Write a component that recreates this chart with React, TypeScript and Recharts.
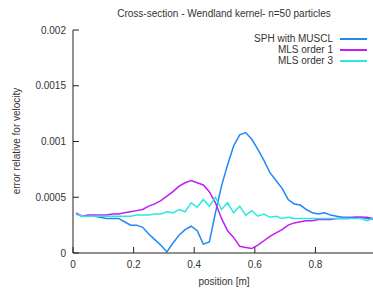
import React from 'react';
import { LineChart, Line, XAxis, YAxis, Legend } from 'recharts';

const positions = [
  0.01, 0.03, 0.05, 0.07, 0.09, 0.11, 0.13, 0.15, 0.17, 0.19,
  0.21, 0.23, 0.25, 0.27, 0.29, 0.31, 0.33, 0.35, 0.37, 0.39,
  0.41, 0.43, 0.45, 0.47, 0.49, 0.51, 0.53, 0.55, 0.57, 0.59,
  0.61, 0.63, 0.65, 0.67, 0.69, 0.71, 0.73, 0.75, 0.77, 0.79,
  0.81, 0.83, 0.85, 0.87, 0.89, 0.91, 0.93, 0.95, 0.97, 0.99,
];

const sphMuscl = [
  0.00035, 0.00033, 0.00033, 0.00033, 0.00032, 0.00031, 0.00031, 0.00031, 0.00028, 0.00025,
  0.00025, 0.00023, 0.00017, 0.00012, 0.00007, 0.00001, 0.00009, 0.00016, 0.00021, 0.00024,
  0.0002, 0.00008, 0.0001, 0.00036, 0.0006, 0.00079, 0.00096, 0.00106, 0.00108, 0.00102,
  0.00093, 0.00083, 0.00072, 0.00065, 0.00058, 0.00048, 0.00044, 0.00043, 0.00039, 0.00036,
  0.00035, 0.00036, 0.00034, 0.00033, 0.00032, 0.00032, 0.00032, 0.00032, 0.00031, 0.0003,
];

const mlsOrder1 = [
  0.00036, 0.00033, 0.00034, 0.00034, 0.00034, 0.00034, 0.00035, 0.00035, 0.00036, 0.00037,
  0.00038, 0.00039, 0.00042, 0.00044, 0.00047, 0.00051, 0.00055, 0.0006, 0.00063, 0.00065,
  0.00063, 0.00061, 0.00055, 0.00045, 0.00031, 0.0002, 0.00014, 0.00006, 0.00005, 0.00004,
  0.00007, 0.00011, 0.00015, 0.00018, 0.00021, 0.00025, 0.00027, 0.00028, 0.00029, 0.00029,
  0.0003, 0.0003, 0.0003, 0.00031, 0.00031, 0.00031, 0.00032, 0.00032, 0.00032, 0.00031,
];

const mlsOrder3 = [
  0.00035, 0.00033, 0.00033, 0.00033, 0.00033, 0.00033, 0.00033, 0.00033, 0.00033, 0.00033,
  0.00034, 0.00034, 0.00034, 0.00035, 0.00035, 0.00037, 0.00036, 0.00039, 0.00037, 0.00045,
  0.00041, 0.00048, 0.00042, 0.0005, 0.00039, 0.00045, 0.00036, 0.00042, 0.00034, 0.00038,
  0.00033, 0.00035, 0.00032, 0.00033, 0.00031, 0.00032, 0.00031, 0.00031, 0.00031, 0.00031,
  0.00031, 0.00031, 0.00031, 0.00031, 0.00031, 0.00031, 0.00031, 0.00031, 0.00029, 0.00031,
];

const xTicks = [0, 0.2, 0.4, 0.6, 0.8];
const yTicks = [0, 0.0005, 0.001, 0.0015, 0.002];
const yTickLabels = ['0', '0.0005', '0.001', '0.0015', '0.002'];
const xTickLabels = ['0', '0.2', '0.4', '0.6', '0.8'];

const seriesNames = ['SPH with MUSCL', 'MLS order 1', 'MLS order 3'];
const colors = ['#1e88f5', '#c41cf5', '#2ee8e0'];

const data = positions.map((p, i) => ({
  x: p,
  sph: sphMuscl[i],
  mls1: mlsOrder1[i],
  mls3: mlsOrder3[i],
}));

const FONT = 'Liberation Sans, Arial, sans-serif';
const TXT = '#333';

const BottomTick = (props: any) => {
  const { x, y, payload } = props;
  const i = xTicks.indexOf(payload.value);
  return (
    <g>
      <line x1={x} x2={x} y1={y} y2={y - 6} stroke="#222" strokeWidth={1} />
      <text x={x} y={y + 15} textAnchor="middle" fontSize={10} fontFamily={FONT} fill={TXT}>
        {i >= 0 ? xTickLabels[i] : payload.value}
      </text>
    </g>
  );
};

const TopTick = (props: any) => {
  const { x, y } = props;
  return <line x1={x} x2={x} y1={y} y2={y + 6} stroke="#222" strokeWidth={1} />;
};

const LeftTick = (props: any) => {
  const { x, y, payload } = props;
  const i = yTicks.indexOf(payload.value);
  return (
    <g>
      <line x1={x} x2={x + 6} y1={y} y2={y} stroke="#222" strokeWidth={1} />
      <text x={x - 7} y={y + 3.5} textAnchor="end" fontSize={10} fontFamily={FONT} fill={TXT}>
        {i >= 0 ? yTickLabels[i] : payload.value}
      </text>
    </g>
  );
};

const LegendContent = () => (
  <div style={{ position: 'relative', width: 170, height: 0, overflow: 'visible', fontFamily: FONT, fontSize: 10, color: TXT }}>
    {seriesNames.map((n, i) => (
      <div key={n} style={{ position: 'absolute', top: i * 11, left: 0, width: 170, height: 11 }}>
        <span style={{ position: 'absolute', right: 37, top: 0, lineHeight: '11px', whiteSpace: 'nowrap' }}>{n}</span>
        <span style={{ position: 'absolute', left: 140, top: 5, width: 27, height: 1.5, background: colors[i] }} />
      </div>
    ))}
  </div>
);

export default function App() {
  return (
    <div style={{ position: 'absolute', left: 0, top: 0, width: 373, height: 293, background: '#fff' }}>
      <LineChart width={373} height={293} data={data} margin={{ top: 30, right: 0, bottom: 0, left: 0 }}>
        <text x={224} y={17} textAnchor="middle" fontSize={10} fontFamily={FONT} fill={TXT}>
          Cross-section - Wendland kernel- n=50 particles
        </text>
        <text x={224} y={285} textAnchor="middle" fontSize={10} fontFamily={FONT} fill={TXT}>
          position [m]
        </text>
        <text
          x={20}
          y={141}
          textAnchor="middle"
          fontSize={10}
          fontFamily={FONT}
          fill={TXT}
          transform="rotate(-90 20 141)"
        >
          error relative for velocity
        </text>
        <XAxis
          dataKey="x"
          type="number"
          domain={[0, 0.99]}
          ticks={xTicks}
          height={40}
          tickSize={0}
          tickMargin={0}
          tick={<BottomTick />}
          axisLine={{ stroke: '#222' }}
          allowDataOverflow
        />
        <XAxis
          xAxisId="top"
          dataKey="x"
          type="number"
          orientation="top"
          domain={[0, 0.99]}
          ticks={xTicks}
          height={0}
          tickSize={0}
          tickMargin={0}
          tick={<TopTick />}
          axisLine={{ stroke: '#222' }}
          allowDataOverflow
        />
        <YAxis
          type="number"
          domain={[0, 0.002]}
          ticks={yTicks}
          width={73}
          tickSize={0}
          tickMargin={0}
          tick={<LeftTick />}
          axisLine={{ stroke: '#222' }}
        />
        <Legend
          content={<LegendContent />}
          wrapperStyle={{ position: 'absolute', top: 33, left: 200, width: 170, height: 0 }}
        />
        <Line dataKey="sph" name={seriesNames[0]} stroke={colors[0]} strokeWidth={1.5} dot={false} isAnimationActive={false} />
        <Line dataKey="mls1" name={seriesNames[1]} stroke={colors[1]} strokeWidth={1.5} dot={false} isAnimationActive={false} />
        <Line dataKey="mls3" name={seriesNames[2]} stroke={colors[2]} strokeWidth={1.5} dot={false} isAnimationActive={false} />
      </LineChart>
    </div>
  );
}
